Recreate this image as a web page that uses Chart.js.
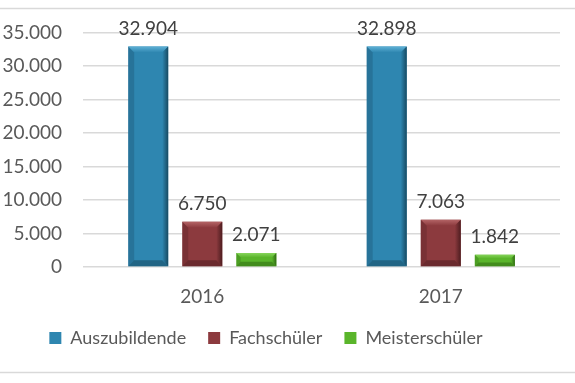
<!DOCTYPE html>
<html>
<head>
<meta charset="utf-8">
<script src="https://cdn.jsdelivr.net/npm/chart.js@4.4.0/dist/chart.umd.min.js"></script>
<style>
  html, body { margin: 0; padding: 0; background: #fff; }
  #wrap { position: relative; width: 575px; height: 383px; }
</style>
</head>
<body>
<div id="wrap"><canvas id="chart" width="575" height="383"></canvas></div>
<script>
// data
const years = ['2016', '2017'];
const auszubildende = [32904, 32898];
const fachschueler = [6750, 7063];
const meisterschueler = [2071, 1842];
const seriesNames = ['Auszubildende', 'Fachschüler', 'Meisterschüler'];
const yMin = 0, yMax = 35000, yStep = 5000;

// colours: face, light top, dark side
const palette = [
    { face: '#2E86B0', light: '#5FB1D6', dark: '#174A62' },
    { face: '#8C3A3E', light: '#B46466', dark: '#4E1D20' },
    { face: '#5AB52B', light: '#86D45A', dark: '#2F6A12' }
];

const FONT = 'Lato, "Open Sans", sans-serif';

function formatDe(n) {
    return String(n).replace(/\B(?=(\d{3})+(?!\d))/g, '.');
}

// light frame lines above and below the chart
const framePlugin = {
    id: 'frame',
    beforeDraw(chart) {
        const ctx = chart.ctx;
        ctx.save();
        ctx.strokeStyle = '#d9d9d9';
        ctx.lineWidth = 1.5;
        ctx.beginPath();
        ctx.moveTo(0, 8.5); ctx.lineTo(575, 8.5);
        ctx.moveTo(0, 372.5); ctx.lineTo(575, 372.5);
        ctx.stroke();
        ctx.restore();
    },
    afterLayout(chart) {
        // legend in the original sits a bit left of the canvas centre
        if (chart.legend) {
            chart.legend.left -= 14;
            chart.legend.right -= 14;
        }
    }
};

// bevel look on the bars plus value labels above them
const bevelPlugin = {
    id: 'bevel',
    afterDatasetsDraw(chart) {
        const ctx = chart.ctx;
        chart.data.datasets.forEach((ds, di) => {
            const meta = chart.getDatasetMeta(di);
            const col = palette[di];
            meta.data.forEach((bar, i) => {
                const left = bar.x - bar.width / 2;
                const right = bar.x + bar.width / 2;
                const top = bar.y;
                const bottom = bar.base;
                const b = Math.min(6, (bottom - top) / 3);

                ctx.save();
                // top bevel
                let g = ctx.createLinearGradient(0, top, 0, top + b);
                g.addColorStop(0, col.light);
                g.addColorStop(1, col.face);
                ctx.fillStyle = g;
                ctx.beginPath();
                ctx.moveTo(left, top); ctx.lineTo(right, top);
                ctx.lineTo(right - b, top + b); ctx.lineTo(left + b, top + b);
                ctx.closePath(); ctx.fill();
                // right side
                g = ctx.createLinearGradient(right - b, 0, right, 0);
                g.addColorStop(0, col.face);
                g.addColorStop(1, col.dark);
                ctx.fillStyle = g;
                ctx.beginPath();
                ctx.moveTo(right, top); ctx.lineTo(right, bottom);
                ctx.lineTo(right - b, bottom - b); ctx.lineTo(right - b, top + b);
                ctx.closePath(); ctx.fill();
                // left side
                ctx.globalAlpha = 0.3;
                ctx.fillStyle = col.dark;
                ctx.beginPath();
                ctx.moveTo(left, top); ctx.lineTo(left + b, top + b);
                ctx.lineTo(left + b, bottom - b); ctx.lineTo(left, bottom);
                ctx.closePath(); ctx.fill();
                // bottom
                ctx.globalAlpha = 0.55;
                ctx.beginPath();
                ctx.moveTo(left, bottom); ctx.lineTo(right, bottom);
                ctx.lineTo(right - b, bottom - b); ctx.lineTo(left + b, bottom - b);
                ctx.closePath(); ctx.fill();
                ctx.restore();

                // value label
                ctx.save();
                ctx.font = '19px ' + FONT;
                ctx.fillStyle = '#404040';
                ctx.textAlign = 'center';
                ctx.textBaseline = 'middle';
                ctx.fillText(formatDe(ds.data[i]), bar.x, top - 18);
                ctx.restore();
            });
        });
    }
};

const ctx = document.getElementById('chart').getContext('2d');
new Chart(ctx, {
    type: 'bar',
    data: {
        labels: years,
        datasets: [auszubildende, fachschueler, meisterschueler].map((values, i) => ({
            label: seriesNames[i],
            data: values,
            backgroundColor: palette[i].face,
            borderWidth: 0,
            categoryPercentage: 0.68,
            barPercentage: 0.74
        }))
    },
    options: {
        responsive: false,
        animation: false,
        layout: { padding: { left: 0, right: 15, top: 29, bottom: 26 } },
        plugins: {
            tooltip: { enabled: false },
            legend: {
                position: 'bottom',
                labels: {
                    boxWidth: 12,
                    boxHeight: 12,
                    padding: 22,
                    color: '#595959',
                    font: { family: FONT, size: 18 }
                }
            }
        },
        scales: {
            x: {
                grid: { display: false, drawTicks: false },
                border: { display: false },
                ticks: { color: '#595959', padding: 18, font: { family: FONT, size: 19 } },
                afterFit(scale) { scale.height = 40; }
            },
            y: {
                min: yMin,
                max: yMax,
                grid: { color: '#d9d9d9', lineWidth: 1.5, drawTicks: false },
                border: { display: false },
                ticks: {
                    stepSize: yStep,
                    color: '#595959',
                    padding: 21,
                    font: { family: FONT, size: 19 },
                    callback: v => formatDe(v)
                },
                afterFit(scale) { scale.width = 83; }
            }
        }
    },
    plugins: [framePlugin, bevelPlugin]
});
</script>
</body>
</html>
